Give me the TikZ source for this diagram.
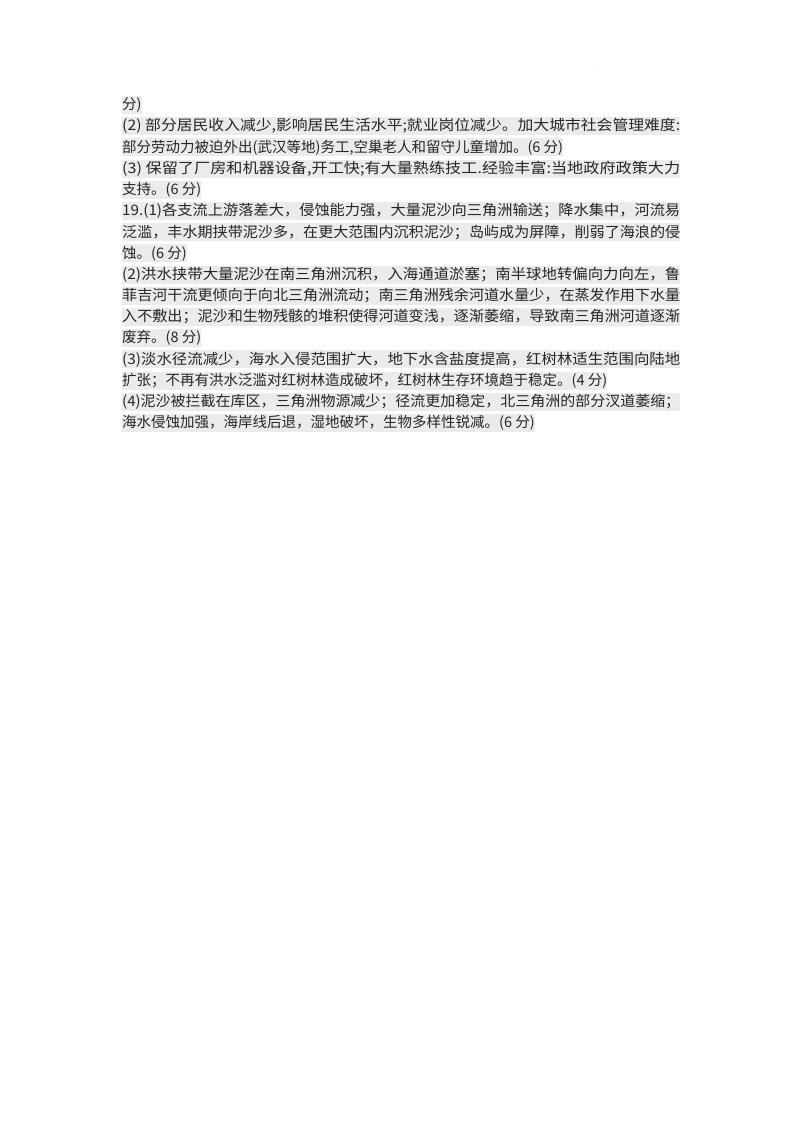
\documentclass[tikz,border=0pt]{standalone}
\usepackage{fontspec}
\usepackage{graphicx}
\setmainfont{Noto Sans CJK SC}
\newcommand{\fl}[1]{\resizebox{558pt}{\height}{#1}}
\begin{document}
\begin{tikzpicture}[x=1pt,y=-1pt,
  ln/.style={anchor=west,inner xsep=0pt,inner ysep=1.5pt,fill=black!8,text=black!85,font=\fontsize{14.5pt}{16pt}\selectfont}]
\useasboundingbox[fill=white] (0,0) rectangle (800,1132);
\node[font=\tiny,text=black!60] (dot) at (595,68) {.};
\node[ln] (l1) at (122,105) {分)};
\node[ln] (l2) at (122,126.2) {\fl{(2) 部分居民收入减少,影响居民生活水平;就业岗位减少。加大城市社会管理难度:}};
\node[ln] (l3) at (122,147.4) {部分劳动力被迫外出(武汉等地)务工,空巢老人和留守儿童增加。(6 分)};
\node[ln] (l4) at (122,168.6) {\fl{(3) 保留了厂房和机器设备,开工快;有大量熟练技工.经验丰富:当地政府政策大力}};
\node[ln] (l5) at (122,189.8) {支持。(6 分)};
\node[ln] (l6) at (122,211) {\fl{19.(1)各支流上游落差大，侵蚀能力强，大量泥沙向三角洲输送；降水集中，河流易}};
\node[ln] (l7) at (122,232.2) {\fl{泛滥，丰水期挟带泥沙多，在更大范围内沉积泥沙；岛屿成为屏障，削弱了海浪的侵}};
\node[ln] (l8) at (122,253.4) {蚀。(6 分)};
\node[ln] (l9) at (122,274.6) {\fl{(2)洪水挟带大量泥沙在南三角洲沉积，入海通道淤塞；南半球地转偏向力向左，鲁}};
\node[ln] (l10) at (122,295.8) {\fl{菲吉河干流更倾向于向北三角洲流动；南三角洲残余河道水量少，在蒸发作用下水量}};
\node[ln] (l11) at (122,317) {\fl{入不敷出；泥沙和生物残骸的堆积使得河道变浅，逐渐萎缩，导致南三角洲河道逐渐}};
\node[ln] (l12) at (122,338.2) {废弃。(8 分)};
\node[ln] (l13) at (122,359.4) {\fl{(3)淡水径流减少，海水入侵范围扩大，地下水含盐度提高，红树林适生范围向陆地}};
\node[ln] (l14) at (122,380.6) {扩张；不再有洪水泛滥对红树林造成破坏，红树林生存环境趋于稳定。(4 分)};
\node[ln] (l15) at (122,401.8) {\fl{(4)泥沙被拦截在库区，三角洲物源减少；径流更加稳定，北三角洲的部分汊道萎缩；}};
\node[ln] (l16) at (122,423) {海水侵蚀加强，海岸线后退，湿地破坏，生物多样性锐减。(6 分)};
\end{tikzpicture}
\end{document}
